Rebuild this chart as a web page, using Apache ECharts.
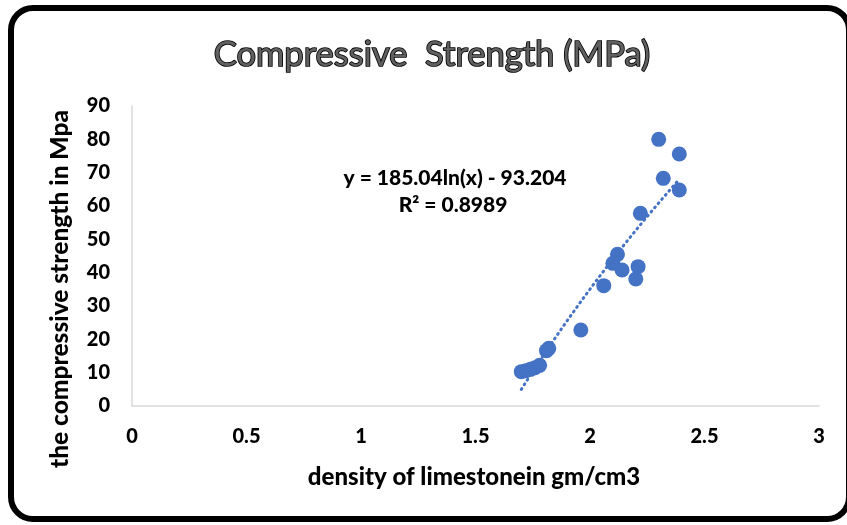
<!DOCTYPE html>
<html>
<head>
<meta charset="utf-8">
<script src="https://cdn.jsdelivr.net/npm/echarts@6/dist/echarts.min.js"></script>
<style>
html,body{margin:0;padding:0;background:#fff;}
#chart{width:847px;height:525px;}
</style>
</head>
<body>
<div id="chart"></div>
<script>
// Data
const densities = [2.30, 2.39, 2.32, 2.39, 2.22, 2.12, 2.10, 2.14, 2.21, 2.20, 2.06, 1.96, 1.82, 1.81, 1.70, 1.72, 1.74, 1.76, 1.78];
const strengths = [80.0, 75.6, 68.3, 64.8, 57.8, 45.5, 42.8, 40.8, 41.8, 38.1, 36.1, 22.8, 17.3, 16.6, 10.3, 10.6, 11.0, 11.5, 12.2];
const xTicks = [0, 0.5, 1, 1.5, 2, 2.5, 3];
const yTicks = [0, 10, 20, 30, 40, 50, 60, 70, 80, 90];
// Logarithmic trendline as shown on the chart: y = a ln(x) + b
const trendA = 185.04;
const trendB = -93.204;
const trendR2 = 0.8989;

const points = densities.map((d, i) => [d, strengths[i]]);
const xMin = Math.min(...densities), xMax = Math.max(...densities);
const trend = [];
const steps = 40;
for (let i = 0; i <= steps; i++) {
  const x = xMin + (xMax - xMin) * i / steps;
  trend.push([x, trendA * Math.log(x) + trendB]);
}

const FONT = 'Lato, "Liberation Sans", sans-serif';
const chart = echarts.init(document.getElementById('chart'), null, {renderer: 'canvas'});
chart.setOption({
  animation: false,
  backgroundColor: '#fff',
  grid: {left: 132, right: 28, top: 106, bottom: 119, containLabel: false},
  xAxis: {
    type: 'value', min: xTicks[0], max: xTicks[xTicks.length - 1], interval: 0.5,
    splitLine: {show: false},
    axisTick: {show: false},
    axisLine: {show: true, onZero: false, lineStyle: {color: '#d9d9d9', width: 1.5}},
    axisLabel: {fontFamily: FONT, fontWeight: 900, fontSize: 20, color: '#000', margin: 21}
  },
  yAxis: {
    type: 'value', min: yTicks[0], max: yTicks[yTicks.length - 1], interval: 10,
    splitLine: {show: false},
    axisTick: {show: false},
    axisLine: {show: true, lineStyle: {color: '#d9d9d9', width: 1.5}},
    axisLabel: {fontFamily: FONT, fontWeight: 900, fontSize: 20, color: '#000', margin: 22}
  },
  series: [
    {
      type: 'line', data: trend, showSymbol: false, smooth: false,
      lineStyle: {color: '#4472C4', width: 3, type: [1, 4.5], cap: 'round'},
      z: 3
    },
    {
      type: 'scatter', data: points, symbolSize: 15,
      itemStyle: {color: '#4472C4', opacity: 1},
      z: 2
    }
  ],
  graphic: [
    {type: 'rect', shape: {x: 11, y: 8, width: 838, height: 511, r: 22},
     style: {fill: 'none', stroke: '#000', lineWidth: 6}, z: 100},
    {type: 'text', x: 432, y: 55,
     style: {text: 'Compressive  Strength (MPa)', font: '34.5px ' + FONT, fill: '#606060',
             stroke: '#000', lineWidth: 1.7, align: 'center', verticalAlign: 'middle'}},
    {type: 'text', x: 474, y: 477,
     style: {text: 'density of limestonein gm/cm3', font: '900 24px ' + FONT, fill: '#000',
             align: 'center', verticalAlign: 'middle'}},
    {type: 'text', x: 60, y: 289, rotation: Math.PI / 2,
     style: {text: 'the compressive strength in Mpa', font: '900 24.5px ' + FONT, fill: '#000',
             align: 'center', verticalAlign: 'middle'}},
    {type: 'text', x: 455, y: 178,
     style: {text: 'y = ' + trendA.toFixed(2) + 'ln(x) - ' + Math.abs(trendB).toFixed(3), font: '900 21px ' + FONT, fill: '#000',
             align: 'center', verticalAlign: 'middle'}},
    {type: 'text', x: 453, y: 205,
     style: {text: 'R² = ' + trendR2.toFixed(4), font: '900 21px ' + FONT, fill: '#000',
             align: 'center', verticalAlign: 'middle'}}
  ]
});
</script>
</body>
</html>
